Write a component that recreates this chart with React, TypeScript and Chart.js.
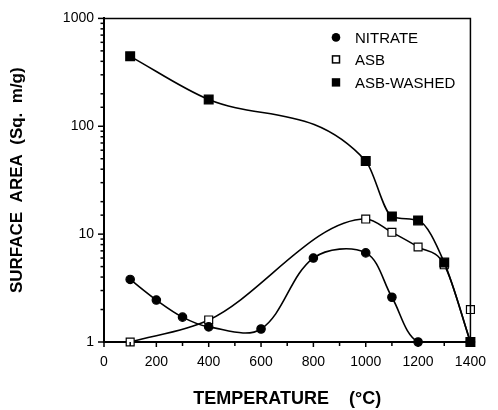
import React, { useEffect, useRef } from "react";
import { Chart, registerables } from "chart.js";

Chart.register(...registerables);

// Temperature (°C) and surface area (m²/g)
const nitrateTemps = [100, 200, 300, 400, 600, 800, 1000, 1100, 1200, 1400];
const nitrateArea = [3.8, 2.45, 1.7, 1.38, 1.32, 6.0, 6.7, 2.6, 1.0, 1.0];

const asbTemps = [100, 400, 1000, 1100, 1200, 1300, 1400];
const asbArea = [1.0, 1.6, 13.8, 10.4, 7.6, 5.2, 1.0];

const asbExtraTemps = [1400];
const asbExtraArea = [2.0];

const washedTemps = [100, 400, 1000, 1100, 1200, 1300, 1400];
const washedArea = [445, 177, 47.7, 14.6, 13.4, 5.45, 1.0];

const xTickLabels = [0, 200, 400, 600, 800, 1000, 1200, 1400];
const yTickLabels = [1, 10, 100, 1000];

const legendLabels = ["NITRATE", "ASB", "ASB-WASHED"];

const toPoints = (xs: number[], ys: number[]) => xs.map((x, i) => ({ x, y: ys[i] }));

const FONT = "'Liberation Sans', Arial, Helvetica, sans-serif";

const framePlugin = {
  id: "frameAndTicks",
  afterDraw(chart: any) {
    const { ctx, chartArea } = chart;
    const xs = chart.scales.x;
    const ys = chart.scales.y;
    ctx.save();
    ctx.strokeStyle = "#000";
    ctx.lineWidth = 1.5;
    ctx.beginPath();
    ctx.moveTo(chartArea.left, chartArea.top);
    ctx.lineTo(chartArea.right, chartArea.top);
    ctx.lineTo(chartArea.right, chartArea.bottom);
    ctx.stroke();
    ys.ticks.forEach((t: any) => {
      const v = t.value;
      const p = ys.getPixelForValue(v);
      const major = yTickLabels.includes(v);
      ctx.beginPath();
      ctx.moveTo(chartArea.left - (major ? 6 : 3.5), p);
      ctx.lineTo(chartArea.left, p);
      ctx.stroke();
    });
    xs.ticks.forEach((t: any) => {
      const v = t.value;
      const p = xs.getPixelForValue(v);
      const major = xTickLabels.includes(v);
      ctx.beginPath();
      ctx.moveTo(p, chartArea.bottom);
      ctx.lineTo(p, chartArea.bottom + (major ? 5 : 4));
      ctx.stroke();
    });
    ctx.restore();
  },
};

const legendPlugin = {
  id: "insideLegend",
  afterDraw(chart: any) {
    const { ctx, chartArea } = chart;
    const mx = chartArea.left + 232;
    const tx = chartArea.left + 251;
    const rows = [19, 41, 64];
    ctx.save();
    ctx.font = `15px ${FONT}`;
    ctx.textBaseline = "middle";
    ctx.fillStyle = "#000";
    ctx.strokeStyle = "#000";
    legendLabels.forEach((label, i) => {
      const y = chartArea.top + rows[i];
      ctx.lineWidth = 1.5;
      if (i === 0) {
        ctx.beginPath();
        ctx.arc(mx, y, 4.3, 0, Math.PI * 2);
        ctx.fill();
      } else if (i === 1) {
        ctx.fillStyle = "#fff";
        ctx.fillRect(mx - 3.5, y - 3.5, 7, 7);
        ctx.strokeRect(mx - 3.5, y - 3.5, 7, 7);
        ctx.fillStyle = "#000";
      } else {
        ctx.fillRect(mx - 4.2, y - 4.2, 8.4, 8.4);
      }
      ctx.fillText(label, tx, y + 1);
    });
    ctx.restore();
  },
};

export default function App() {
  const ref = useRef<HTMLCanvasElement | null>(null);

  useEffect(() => {
    if (!ref.current) return;
    const common = {
      borderColor: "#000",
      borderWidth: 1.6,
      tension: 0.4,
      clip: false as any,
      pointBorderColor: "#000",
      pointBorderWidth: 1.2,
    };
    const chart = new Chart(ref.current, {
      type: "line",
      data: {
        datasets: [
          {
            ...common,
            label: legendLabels[2],
            data: toPoints(washedTemps, washedArea),
            cubicInterpolationMode: "monotone",
            pointStyle: "rect",
            pointRadius: 6.2,
            pointBackgroundColor: "#000",
          },
          {
            ...common,
            label: legendLabels[0],
            data: toPoints(nitrateTemps, nitrateArea),
            tension: 0.35,
            pointStyle: "circle",
            pointRadius: 4.2,
            pointBackgroundColor: "#000",
          },
          {
            ...common,
            label: legendLabels[1] + " (1400)",
            data: toPoints(asbExtraTemps, asbExtraArea),
            showLine: false,
            pointStyle: "rect",
            pointRadius: 5.6,
            pointBackgroundColor: "#fff",
          },
          {
            ...common,
            label: legendLabels[1],
            data: toPoints(asbTemps, asbArea),
            cubicInterpolationMode: "monotone",
            pointStyle: "rect",
            pointRadius: 5.6,
            pointBackgroundColor: "#fff",
          },
        ],
      },
      options: {
        responsive: false,
        animation: false,
        layout: { padding: { top: 15, right: 18, left: 0, bottom: 0 } },
        plugins: {
          legend: { display: false },
          tooltip: { enabled: false },
        },
        scales: {
          x: {
            type: "linear",
            min: 0,
            max: 1400,
            afterFit: (s: any) => {
              s.height = 68;
            },
            grid: { display: false, drawTicks: false },
            border: { display: true, color: "#000", width: 2 },
            ticks: {
              stepSize: 100,
              autoSkip: false,
              maxRotation: 0,
              padding: 12,
              color: "#000",
              font: { family: FONT, size: 14 },
              callback: (v: any) => (xTickLabels.includes(Number(v)) ? String(v) : ""),
            },
            title: {
              display: true,
              text: "TEMPERATURE    (°C)",
              color: "#000",
              font: { family: FONT, size: 18, weight: "bold" },
              padding: { top: 0, bottom: 0 },
            },
          },
          y: {
            type: "logarithmic",
            min: 1,
            max: 1000,
            afterFit: (s: any) => {
              s.width = 104;
            },
            grid: { display: false, drawTicks: false },
            border: { display: true, color: "#000", width: 2 },
            ticks: {
              autoSkip: false,
              padding: 10,
              color: "#000",
              font: { family: FONT, size: 14 },
              callback: (v: any) => (yTickLabels.includes(Number(v)) ? String(v) : ""),
            },
            title: {
              display: true,
              text: "SURFACE  AREA  (Sq.  m/g)",
              color: "#000",
              font: { family: FONT, size: 17, weight: "bold" },
              padding: { top: 7, bottom: 0 },
            },
          },
        },
      },
      plugins: [framePlugin, legendPlugin],
    });
    return () => chart.destroy();
  }, []);

  return (
    <div style={{ position: "absolute", left: 0, top: 0, width: 498, height: 410, background: "#fff" }}>
      <canvas ref={ref} width={498} height={410} />
    </div>
  );
}
